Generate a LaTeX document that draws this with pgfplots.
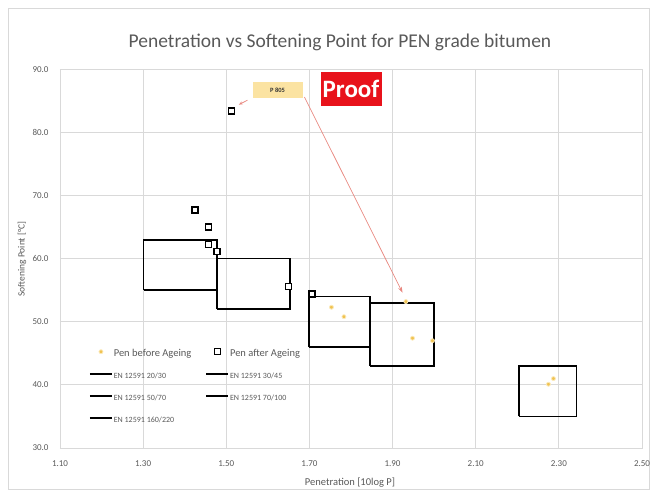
\documentclass[border=0pt]{standalone}
\usepackage{pgfplots}
\pgfplotsset{compat=1.18}
\usetikzlibrary{arrows.meta}
\usepackage{fontspec}
\setmainfont{Carlito}
\definecolor{txt}{HTML}{595959}
\definecolor{gridc}{HTML}{D9D9D9}
\definecolor{pen}{HTML}{F0C250}
\definecolor{penhalo}{HTML}{FBE9B8}
\definecolor{arr}{HTML}{E8877F}
\definecolor{lab}{HTML}{FBE3A2}
\definecolor{proof}{HTML}{E8121B}
\begin{document}
\begin{tikzpicture}
\useasboundingbox (0pt,0pt) rectangle (657pt,-492pt);
\draw[gridc, line width=0.8pt] (8pt,-8pt) rectangle (649pt,-489pt);
\node[txt, font=\fontsize{19.5}{22}\selectfont] at (340pt,-42pt) {Penetration vs Softening Point for PEN grade bitumen};
\node[txt, font=\fontsize{10.5}{12}\selectfont] at (350pt,-483pt) {Penetration [10log P]};
\node[txt, font=\fontsize{9.5}{10}\selectfont, rotate=90] at (22pt,-259pt) {Softening Point [°C]};
\begin{axis}[
  at={(60pt,-448pt)}, anchor=south west,
  scale only axis, width=582pt, height=378.7pt,
  xmin=1.1, xmax=2.5, ymin=30, ymax=90,
  xtick={1.1,1.3,1.5,1.7,1.9,2.1,2.3,2.5},
  ytick={30,40,50,60,70,80,90},
  grid=major, major grid style={gridc, line width=0.8pt},
  axis line style={gridc, line width=0.8pt},
  major tick length=0pt,
  /pgf/number format/assume math mode=true,
  xticklabel style={/pgf/number format/.cd, fixed, fixed zerofill, precision=2, /tikz/.cd, font=\fontsize{9}{10}\selectfont, text=txt, yshift=-9pt},
  yticklabel style={/pgf/number format/.cd, fixed, fixed zerofill, precision=1, /tikz/.cd, font=\fontsize{9}{10}\selectfont, text=txt, xshift=-8pt},
  legend columns=2,
  legend cell align=left,
  legend image code/.code={\draw[mark repeat=2,mark phase=2,yshift=2.6pt,#1] plot coordinates {(0pt,0pt)(11pt,0pt)(22pt,0pt)};},
  legend style={at={(0.0498,0.2627)}, anchor=north west, draw=none, fill=none, inner sep=0pt,
    font=\fontsize{10.5}{12}\selectfont, text=txt, row sep=11pt,
    nodes={inner sep=1pt, text height=7pt, text depth=2pt},
    /tikz/every even column/.append style={column sep=13pt}},
]
\addlegendimage{only marks, mark=*, mark size=2pt, mark options={draw=penhalo, fill=pen, line width=0.8pt}}
\addlegendentry{Pen before Ageing}
\addlegendimage{only marks, mark=square*, mark size=3pt, mark options={draw=black, fill=white, line width=1.3pt}}
\addlegendentry{Pen after Ageing}
\addlegendimage{black, line width=1.6pt}
\addlegendentry{\fontsize{8}{9}\selectfont EN 12591 20/30}
\addlegendimage{black, line width=1.6pt}
\addlegendentry{\fontsize{8}{9}\selectfont EN 12591 30/45}
\addlegendimage{black, line width=1.6pt}
\addlegendentry{\fontsize{8}{9}\selectfont EN 12591 50/70}
\addlegendimage{black, line width=1.6pt}
\addlegendentry{\fontsize{8}{9}\selectfont EN 12591 70/100}
\addlegendimage{black, line width=1.6pt}
\addlegendentry{\fontsize{8}{9}\selectfont EN 12591 160/220}
% EN 12591 boxes
\addplot[black, line width=1.6pt, no marks, forget plot] coordinates {(1.301,55) (1.301,63) (1.477,63) (1.477,55) (1.301,55)};
\addplot[black, line width=1.6pt, no marks, forget plot] coordinates {(1.477,52) (1.477,60) (1.653,60) (1.653,52) (1.477,52)};
\addplot[black, line width=1.6pt, no marks, forget plot] coordinates {(1.699,46) (1.699,54) (1.845,54) (1.845,46) (1.699,46)};
\addplot[black, line width=1.6pt, no marks, forget plot] coordinates {(1.845,43) (1.845,53) (2.000,53) (2.000,43) (1.845,43)};
\addplot[black, line width=1.6pt, no marks, forget plot] coordinates {(2.204,35) (2.204,43) (2.342,43) (2.342,35) (2.204,35)};
% Pen before ageing
\addplot[only marks, mark=*, mark size=2pt, mark options={draw=penhalo, fill=pen, line width=0.8pt}, forget plot] coordinates {
(1.753,52.3) (1.783,50.8) (1.932,53.2) (1.948,47.4) (1.996,47.0) (2.275,40.1) (2.287,41.0)};
% Pen after ageing
\addplot[only marks, mark=square*, mark size=3pt, mark options={draw=black, fill=white, line width=1.3pt}, forget plot] coordinates {
(1.513,83.4) (1.425,67.7) (1.458,65.0) (1.458,62.2) (1.478,61.1) (1.650,55.6) (1.706,54.4)};
% annotations
\draw[arr, line width=0.7pt, -{Stealth[length=6pt,width=4pt]}] (axis cs:1.688,85.6) -- (axis cs:1.924,54.6);
\draw[arr, line width=0.7pt, -{Stealth[length=4pt,width=3pt]}] (axis cs:1.551,85.1) -- (axis cs:1.530,84.4);
\node[fill=lab, minimum width=50pt, minimum height=16pt, inner sep=0pt, text=black!80, font=\bfseries\fontsize{6.5}{7}\selectfont] at (axis cs:1.6235,86.7) {P 805};
\node[fill=proof, text=white, minimum width=61pt, minimum height=34pt, inner sep=0pt, font=\bfseries\fontsize{25}{26}\selectfont] at (axis cs:1.80,86.9) {Proof};
\end{axis}
\end{tikzpicture}
\end{document}
